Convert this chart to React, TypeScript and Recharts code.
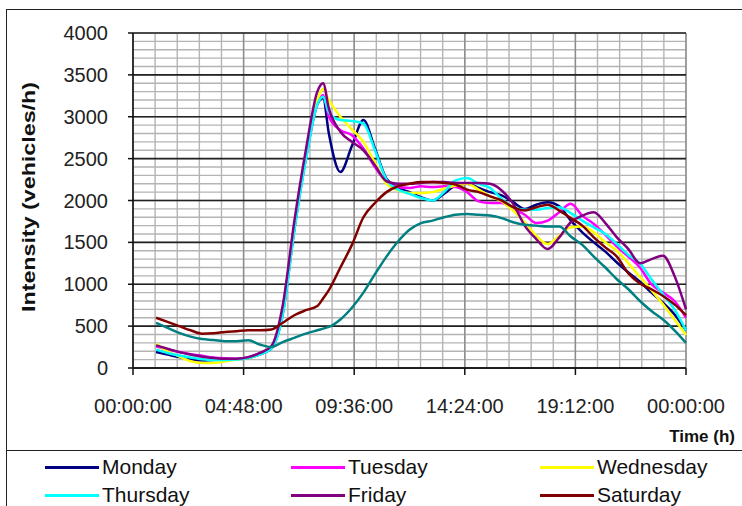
import { CartesianGrid, Label, Line, LineChart, XAxis, YAxis } from "recharts";

// hours of the day (x values)
const HOURS = [
  1, 1.5, 2, 2.5, 3, 3.5, 4, 4.5, 5, 5.5, 6, 6.5, 7, 7.5, 8, 8.25, 8.5, 9, 9.5, 10, 10.5, 11, 11.5, 12,
  12.5, 13, 13.5, 14, 14.5, 15, 15.5, 16, 16.5, 17, 17.5, 18, 18.5, 19, 19.5, 20, 20.5, 21, 21.5, 22,
  22.5, 23, 23.5, 24,
];

// intensity, vehicles/h
const MONDAY = [
  190, 160, 130, 105, 90, 95, 100, 105, 120, 160, 230, 650, 1650, 2500, 3150, 3220, 2800, 2340, 2650, 2960,
  2620, 2260, 2150, 2100, 2040, 2000, 2080, 2180, 2200, 2150, 2100, 2060, 1980, 1900, 1950, 1980, 1930, 1760,
  1620, 1500, 1390, 1260, 1140, 1030, 900, 780, 640, 450,
];
const TUESDAY = [
  260, 220, 190, 165, 145, 125, 115, 110, 130, 175, 250, 700, 1700, 2500, 3150, 3260, 3000, 2840, 2780, 2620,
  2400, 2220, 2160, 2150, 2170, 2160, 2170, 2160, 2100, 1990, 1970, 1970, 1900, 1830, 1730, 1760, 1860, 1960,
  1820, 1720, 1590, 1450, 1330, 1200, 1000, 900, 800, 600,
];
const WEDNESDAY = [
  290, 200, 140, 80, 60, 60, 80, 100, 120, 165, 240, 680, 1680, 2520, 3200, 3330, 3200, 3000, 2850, 2700,
  2450, 2200, 2120, 2090, 2090, 2100, 2140, 2180, 2200, 2130, 2050, 1990, 1880, 1740, 1580, 1480, 1580, 1680,
  1690, 1620, 1500, 1400, 1250, 1090, 930, 760, 580, 395,
];
const THURSDAY = [
  220, 180, 150, 125, 105, 95, 95, 100, 120, 160, 230, 640, 1640, 2480, 3150, 3240, 3050, 2960, 2950, 2920,
  2600, 2250, 2130, 2080, 2030, 2000, 2100, 2240, 2270, 2200, 2150, 2020, 1920, 1890, 1890, 1910, 1920, 1850,
  1760, 1680, 1600, 1480, 1350, 1250, 1060, 880, 700, 450,
];
const FRIDAY = [
  270, 230, 190, 160, 135, 120, 110, 110, 130, 180, 260, 750, 1750, 2600, 3300, 3400, 3100, 2820, 2700, 2600,
  2420, 2230, 2200, 2200, 2210, 2220, 2220, 2210, 2210, 2210, 2200, 2120, 1960, 1700, 1540, 1420, 1560, 1740,
  1820, 1860, 1730, 1560, 1420, 1250, 1300, 1340, 1100, 700,
];
const SATURDAY = [
  600, 550, 500, 450, 410, 415, 430, 440, 450, 450, 460, 540, 630, 690, 740, 830, 930, 1200, 1470, 1800,
  1970, 2100, 2170, 2200, 2220, 2220, 2210, 2190, 2130, 2100, 2050, 2000, 1920, 1880, 1920, 1950, 1880, 1790,
  1700, 1560, 1440, 1330, 1130, 1010, 940, 860, 760, 630,
];
const SUNDAY = [
  540, 480, 420, 375, 345, 335, 320, 320, 330, 280, 250, 310, 360, 410, 450, 470, 490, 580, 720, 900,
  1120, 1330, 1510, 1650, 1730, 1760, 1800, 1830, 1840, 1830, 1820, 1790, 1740, 1710, 1700, 1690, 1690, 1570,
  1470, 1330, 1200, 1060, 940, 800, 680, 580, 450, 300,
];

const X_TICKS = [0, 4.8, 9.6, 14.4, 19.2, 24];
const X_LABELS = ["00:00:00", "04:48:00", "09:36:00", "14:24:00", "19:12:00", "00:00:00"];
const Y_TICKS = [0, 500, 1000, 1500, 2000, 2500, 3000, 3500, 4000];

const SERIES = [
  { key: "mon", name: "Monday", color: "#000080", values: MONDAY },
  { key: "tue", name: "Tuesday", color: "#ff00ff", values: TUESDAY },
  { key: "wed", name: "Wednesday", color: "#ffff00", values: WEDNESDAY },
  { key: "thu", name: "Thursday", color: "#00ffff", values: THURSDAY },
  { key: "fri", name: "Friday", color: "#800080", values: FRIDAY },
  { key: "sat", name: "Saturday", color: "#800000", values: SATURDAY },
  { key: "sun", name: "Sunday", color: "#008080", values: SUNDAY },
];

const rows = HOURS.map((h, i) => {
  const r: Record<string, number> = { h };
  SERIES.forEach((s) => (r[s.key] = s.values[i]));
  return r;
});

// gridline positions: minor every 0.96 h / 100 veh, major every 500 veh
const minorX = Array.from({ length: 26 }, (_, i) => i * 0.96);
const minorY = Array.from({ length: 41 }, (_, i) => i * 100);

const FONT = "'Liberation Sans', Arial, sans-serif";
const LEGEND_COLS = [45, 291, 540];
const LEGEND_ROWS = [467, 495, 523];

export default function App() {
  return (
    <div
      style={{
        position: "absolute",
        left: 0,
        top: 0,
        width: 742,
        height: 506,
        overflow: "hidden",
        background: "#fff",
        fontFamily: FONT,
      }}
    >
      {/* outer frame + legend separator */}
      <div style={{ position: "absolute", left: 6, top: 9, width: 760, height: 600, border: "1.5px solid #222" }} />
      <div style={{ position: "absolute", left: 6, top: 450, width: 760, borderTop: "1.5px solid #222" }} />

      <div style={{ position: "absolute", left: 0, top: 0 }}>
        <LineChart width={742} height={450} data={rows} margin={{ top: 33, right: 56, bottom: 0, left: 0 }}>
          <CartesianGrid stroke="#b4b4b4" strokeWidth={1.4} horizontalValues={minorY} verticalValues={minorX} />
          <CartesianGrid stroke="#8c8c8c" strokeWidth={1.4} horizontal={false} verticalValues={X_TICKS} />
          <CartesianGrid stroke="#222" strokeWidth={1.6} vertical={false} horizontalValues={Y_TICKS} />
          <XAxis
            dataKey="h"
            type="number"
            domain={[0, 24]}
            ticks={X_TICKS}
            tickFormatter={(_v, i) => X_LABELS[i]}
            height={82}
            tickSize={7}
            tickMargin={24}
            stroke="#111"
            strokeWidth={1.5}
            tick={{ fill: "#222", fontSize: 20, fontFamily: FONT }}
            interval={0}
          >
            <Label
              content={() => (
                <text x={735} y={442} textAnchor="end" fontSize={17} fontWeight="bold" fill="#111" fontFamily={FONT}>
                  Time (h)
                </text>
              )}
            />
          </XAxis>
          <YAxis
            type="number"
            domain={[0, 4000]}
            ticks={Y_TICKS}
            width={133}
            tickSize={5}
            tickMargin={20}
            stroke="#111"
            strokeWidth={1.5}
            tick={{ fill: "#222", fontSize: 20, fontFamily: FONT }}
            interval={0}
          >
            <Label
              content={() => (
                <text
                  x={0}
                  y={0}
                  transform="translate(35,197) rotate(-90)"
                  textAnchor="middle"
                  fontSize={19}
                  fontWeight="bold"
                  fill="#111"
                  fontFamily={FONT}
                  textLength={230}
                  lengthAdjust="spacingAndGlyphs"
                >
                  Intensity (vehicles/h)
                </text>
              )}
            />
          </YAxis>
          {SERIES.map((s) => (
            <Line
              key={s.key}
              dataKey={s.key}
              name={s.name}
              type="monotone"
              stroke={s.color}
              strokeWidth={2.5}
              dot={false}
              isAnimationActive={false}
            />
          ))}
        </LineChart>
      </div>

      {/* legend (third row is cut off by the picture edge) */}
      {SERIES.map((s, i) => {
        const left = LEGEND_COLS[i % 3];
        const top = LEGEND_ROWS[Math.floor(i / 3)];
        return (
          <div key={s.key} style={{ position: "absolute", left, top: top - 13, height: 26, display: "flex", alignItems: "center" }}>
            <span style={{ display: "inline-block", width: 54, height: 3, background: s.color }} />
            <span style={{ fontSize: 21, color: "#111", marginLeft: 3, whiteSpace: "nowrap" }}>{s.name}</span>
          </div>
        );
      })}
    </div>
  );
}
